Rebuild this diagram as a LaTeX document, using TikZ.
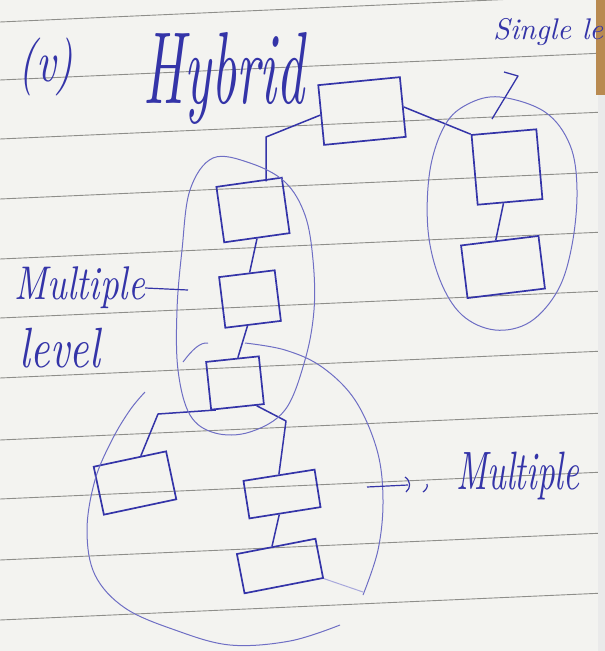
\documentclass[tikz,border=0pt]{standalone}
\usepackage{graphicx}
\usetikzlibrary{calc,arrows.meta}
\definecolor{ink}{HTML}{3434A8}
\definecolor{inkl}{HTML}{6E6EC4}
\definecolor{paperc}{HTML}{F3F3F0}
\definecolor{rulec}{HTML}{8E8E8A}
\definecolor{edgebrown}{HTML}{B98A50}
\definecolor{edgegray}{HTML}{DCDCDC}
\begin{document}
\begin{tikzpicture}[x=1pt,y=-1pt,
  blk/.style={draw=ink,line width=1.7pt,inner sep=0pt},
  wire/.style={draw=ink,line width=1.5pt,line join=round},
  blob/.style={draw=inkl,line width=1pt},
  ruleline/.style={draw=rulec,line width=0.9pt},
  txt/.style={text=ink,inner sep=0pt,font=\itshape}]
\useasboundingbox (0,0) rectangle (605,651);
\clip (0,0) rectangle (605,651);
\fill[paperc] (0,0) rectangle (605,651);
% ruled lines
\foreach \yy in {22,80,139,199,259,318,378,440,499,560,620}
  \draw[ruleline] (0,\yy) -- (605,\yy-27);
% right edge
\fill[edgebrown] (596,0) rectangle (605,95);
\fill[edgegray!60] (598,95) rectangle (605,651);
% texts
\node[txt] (tv) at (46,67) {\resizebox*{55pt}{58pt}{(v)}};
\node[txt] (thy) at (224,78) {\resizebox*{160pt}{92pt}{Hybrid}};
\node[txt,anchor=west] (tsl) at (493,32) {\resizebox{110pt}{!}{Single le}};
\node[txt] (tml) at (80,288) {\resizebox*{130pt}{42pt}{Multiple}};
\node[txt] (tlv) at (60,348) {\resizebox*{80pt}{40pt}{level}};
\node[txt] (tmu) at (518,476) {\resizebox*{123pt}{48pt}{Multiple}};
% boxes
\node[blk,minimum width=82pt,minimum height=60pt,rotate=5.6] (A) at (362,111) {};
\node[blk,minimum width=65pt,minimum height=70pt,rotate=5] (B) at (507,167) {};
\node[blk,minimum width=78pt,minimum height=53pt,rotate=7] (C) at (503,267) {};
\node[blk,minimum width=66pt,minimum height=56pt,rotate=8] (D) at (253,210) {};
\node[blk,minimum width=56pt,minimum height=51pt,rotate=7] (E) at (250,299) {};
\node[blk,minimum width=53pt,minimum height=48pt,rotate=6] (F) at (235,383) {};
\node[blk,minimum width=74pt,minimum height=49pt,rotate=12] (G) at (135,483) {};
\node[blk,minimum width=72pt,minimum height=38pt,rotate=9] (H) at (282,494) {};
\node[blk,minimum width=80pt,minimum height=40pt,rotate=11] (I) at (280,566) {};
% bend points
\coordinate (ad) at (266,137);
\coordinate (fg) at (158,414);
\coordinate (fh) at (286,421);
% connectors
\draw[wire] (A.east) -- (B.north west);
\draw[wire] (A.west) -- (ad) -- (ad |- D.north);
\draw[wire] ($(D.south west)!0.5!(D.south east)$) -- ($(E.north west)!0.55!(E.north east)$);
\draw[wire] ($(E.south west)!0.4!(E.south east)$) -- ($(F.north west)!0.6!(F.north east)$);
\draw[wire] ($(B.south west)!0.4!(B.south east)$) -- ($(C.north west)!0.45!(C.north east)$);
\draw[wire] ($(F.south west)!0.1!(F.south east)$) -- (fg) -- ($(G.north west)!0.65!(G.north east)$);
\draw[wire] ($(F.south west)!0.85!(F.south east)$) -- (fh) -- ($(H.north west)!0.5!(H.north east)$);
\draw[wire] ($(H.south west)!0.42!(H.south east)$) -- ($(I.north west)!0.45!(I.north east)$);
% blobs
\draw[blob] plot[smooth cycle,tension=0.6] coordinates {(500,97) (545,112) (570,145) (577,190) (572,245) (558,290) (530,322) (495,330) (462,315) (440,280) (428,230) (430,170) (445,125) (468,104)};
\draw[blob] plot[smooth cycle,tension=0.6] coordinates {(213,158) (250,163) (285,182) (305,215) (313,260) (314,310) (305,360) (285,410) (250,432) (215,433) (190,415) (178,370) (177,310) (182,250) (190,190)};
\draw[blob] plot[smooth,tension=0.6] coordinates {(245,343) (285,350) (322,367) (355,400) (377,450) (383,500) (378,550) (363,595)};
\draw[blob] plot[smooth,tension=0.6] coordinates {(340,625) (290,641) (230,645) (175,630) (125,608) (95,575) (87,530) (95,480) (112,440) (130,410) (145,392)};
\draw[blob] (183,362) .. controls (192,350) and (200,342) .. (208,343);
\coordinate (ib) at (363,592);
\draw[inkl!60,line width=1pt] (I.south east) -- (ib);
% pointers
\coordinate (sl1) at (492,119);
\coordinate (sl2) at (518,76);
\coordinate (sl3) at (504,72);
\draw[wire,line width=1.3pt] (sl1) -- (sl2) -- (sl3);
\coordinate (mlp) at (188,290);
\draw[wire,line width=1.2pt] (tml.east) -- (mlp);
\coordinate (mu1) at (367,487);
\coordinate (mu2) at (408,485);
\draw[wire,line width=1.2pt] (mu1) -- (mu2);
\draw[wire,line width=1.2pt] (405,477) .. controls (411,481) and (411,488) .. (406,492);
\draw[wire,line width=1.2pt] (427,484) .. controls (428,487) and (426,490) .. (423,492);
\end{tikzpicture}
\end{document}
